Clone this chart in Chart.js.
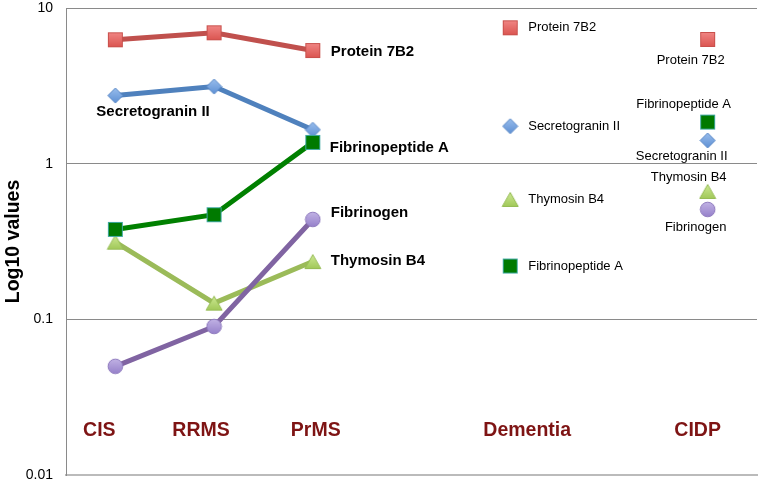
<!DOCTYPE html>
<html>
<head>
<meta charset="utf-8">
<script src="https://cdn.jsdelivr.net/npm/chart.js@4.4.0/dist/chart.umd.min.js"></script>
<style>
html,body{margin:0;padding:0;background:#fff;}
#wrap{width:759px;height:482px;}
</style>
</head>
<body>
<div id="wrap"><canvas id="c" width="759" height="482"></canvas></div>
<script>
// ---- data ----
const categories = ['CIS', 'RRMS', 'PrMS', '', 'Dementia', '', 'CIDP'];
const yTicks = [0.01, 0.1, 1, 10];
const protein7B2      = [6.25, 6.93, 5.33, null, 7.46, null, 6.28];
const secretograninII = [2.74, 3.13, 1.65, null, 1.74, null, 1.41];
const fibrinopeptideA = [0.378, 0.47, 1.37, null, 0.22, null, 1.85];
const thymosinB4      = [0.313, 0.127, 0.235, null, 0.589, null, 0.663];
const fibrinogen      = [0.0499, 0.090, 0.438, null, null, null, 0.508];
const seriesNames = ['Protein 7B2', 'Secretogranin II', 'Fibrinopeptide A', 'Thymosin B4', 'Fibrinogen'];

// ---- markers ----
function mk(w, h, draw) {
  const c = document.createElement('canvas');
  c.width = w; c.height = h;
  draw(c.getContext('2d'), w, h);
  return c;
}
function grad(ctx, h, a, b) {
  const g = ctx.createLinearGradient(0, 0, 0, h);
  g.addColorStop(0, a); g.addColorStop(1, b);
  return g;
}
const sqRed = mk(17, 17, (ctx, w, h) => {
  ctx.fillStyle = grad(ctx, h, '#F28A88', '#D9504C');
  ctx.fillRect(1, 1, 15, 15);
  ctx.strokeStyle = '#C9504C'; ctx.lineWidth = 1;
  ctx.strokeRect(1.5, 1.5, 14, 14);
});
const diaBlue = mk(17, 17, (ctx, w, h) => {
  ctx.beginPath();
  ctx.moveTo(8.5, 1); ctx.lineTo(16, 8.5); ctx.lineTo(8.5, 16); ctx.lineTo(1, 8.5); ctx.closePath();
  ctx.fillStyle = grad(ctx, h, '#9CC0EE', '#5A8DD2'); ctx.fill();
  ctx.strokeStyle = '#5585C5'; ctx.lineWidth = 1; ctx.stroke();
});
const triGreen = mk(18, 17, (ctx, w, h) => {
  ctx.beginPath();
  ctx.moveTo(9, 1.5); ctx.lineTo(17, 15.5); ctx.lineTo(1, 15.5); ctx.closePath();
  ctx.fillStyle = grad(ctx, h, '#D2EC9A', '#9CC552'); ctx.fill();
  ctx.strokeStyle = '#96BC55'; ctx.lineWidth = 1; ctx.stroke();
});
const sqDkGreen = mk(17, 17, (ctx, w, h) => {
  ctx.fillStyle = '#007A00';
  ctx.fillRect(1, 1, 15, 15);
  ctx.strokeStyle = '#3FA8A0'; ctx.lineWidth = 1;
  ctx.strokeRect(1.5, 1.5, 14, 14);
});
const cirPurple = mk(17, 17, (ctx, w, h) => {
  ctx.beginPath(); ctx.arc(8.5, 8.5, 7.3, 0, Math.PI * 2);
  ctx.fillStyle = grad(ctx, h, '#C4B6E6', '#927CC8'); ctx.fill();
  ctx.strokeStyle = '#8F7BBE'; ctx.lineWidth = 1; ctx.stroke();
});

function ds(label, data, color, marker, order) {
  return {
    label, data, order,
    borderColor: color, backgroundColor: color,
    borderWidth: 5, pointStyle: marker, pointRadius: 8,
    spanGaps: false, tension: 0, fill: false
  };
}

// label specs: dataset index, point index, text, dx, dy, align, font
const BOLD = 'bold 15px "Liberation Sans", Arial, sans-serif';
const REG = '13px "Liberation Sans", Arial, sans-serif';
const pointLabels = [
  [0, 2, seriesNames[0], 18, 1, 'left', BOLD],
  [1, 0, seriesNames[1], -19, 16, 'left', BOLD],
  [2, 2, seriesNames[2], 17, 5, 'left', BOLD],
  [4, 2, seriesNames[4], 18, -7, 'left', BOLD],
  [3, 2, seriesNames[3], 18, -1, 'left', BOLD],
  [0, 4, seriesNames[0], 18, 0, 'left', REG],
  [1, 4, seriesNames[1], 18, 0, 'left', REG],
  [3, 4, seriesNames[3], 18, 0, 'left', REG],
  [2, 4, seriesNames[2], 18, 0, 'left', REG],
  [0, 6, seriesNames[0], -17, 21, 'center', REG],
  [2, 6, seriesNames[2], -24, -18, 'center', REG],
  [1, 6, seriesNames[1], -26, 16, 'center', REG],
  [3, 6, seriesNames[3], -19, -14, 'center', REG],
  [4, 6, seriesNames[4], -12, 18, 'center', REG]
];
const catOffsets = {0: -16, 1: -13, 2: 3, 4: 17, 6: -10};

const labelPlugin = {
  id: 'labels',
  afterDatasetsDraw(chart) {
    const ctx = chart.ctx;
    ctx.save();
    ctx.textBaseline = 'middle';
    ctx.fillStyle = '#000';
    pointLabels.forEach(([d, i, t, dx, dy, al, f]) => {
      const p = chart.getDatasetMeta(d).data[i];
      ctx.font = f; ctx.textAlign = al;
      ctx.fillText(t, p.x + dx, p.y + dy);
    });
    // category labels
    const xs = chart.scales.x;
    ctx.font = 'bold 19.5px "Liberation Sans", Arial, sans-serif';
    ctx.fillStyle = '#7E1414';
    ctx.textAlign = 'center';
    categories.forEach((c, i) => {
      if (!c) return;
      ctx.fillText(c, xs.getPixelForValue(i) + catOffsets[i], chart.chartArea.bottom - 44);
    });
    ctx.restore();
  }
};

new Chart(document.getElementById('c'), {
  type: 'line',
  data: {
    labels: categories,
    datasets: [
      ds(seriesNames[0], protein7B2, '#C0504D', sqRed, 5),
      ds(seriesNames[1], secretograninII, '#4F81BD', diaBlue, 4),
      ds(seriesNames[2], fibrinopeptideA, '#008000', sqDkGreen, 2),
      ds(seriesNames[3], thymosinB4, '#9BBB59', triGreen, 3),
      ds(seriesNames[4], fibrinogen, '#8064A2', cirPurple, 1)
    ]
  },
  options: {
    responsive: false,
    animation: false,
    devicePixelRatio: 1,
    layout: { autoPadding: false, padding: { left: 0, right: 2, top: 8, bottom: 7 } },
    plugins: { legend: { display: false }, tooltip: { enabled: false } },
    scales: {
      x: {
        type: 'category',
        offset: true,
        ticks: { display: false },
        grid: { display: false },
        border: { display: true, color: '#BBBBBB', width: 2 },
        afterFit(s) { s.height = 0; s.paddingLeft = 0; s.paddingRight = 0; }
      },
      y: {
        type: 'logarithmic',
        min: 0.01, max: 10,
        afterBuildTicks(s) { s.ticks = yTicks.map(v => ({ value: v })); },
        afterFit(s) { s.width = 66; s.paddingTop = 0; s.paddingBottom = 0; },
        ticks: {
          color: '#000', padding: 13,
          font: { family: '"Liberation Sans", Arial, sans-serif', size: 14 },
          callback: v => String(v)
        },
        grid: {
          drawTicks: false, lineWidth: 1,
          color: c => (c.tick && c.tick.value === 0.01) ? 'rgba(0,0,0,0)' : '#8A8A8A'
        },
        border: { display: true, color: '#8A8A8A', width: 1 },
        title: {
          display: true, text: 'Log10 values', color: '#000',
          padding: { top: 2, bottom: 0 },
          font: { family: '"Liberation Sans", Arial, sans-serif', size: 19.5, weight: 'bold' }
        }
      }
    }
  },
  plugins: [labelPlugin]
});
</script>
</body>
</html>
